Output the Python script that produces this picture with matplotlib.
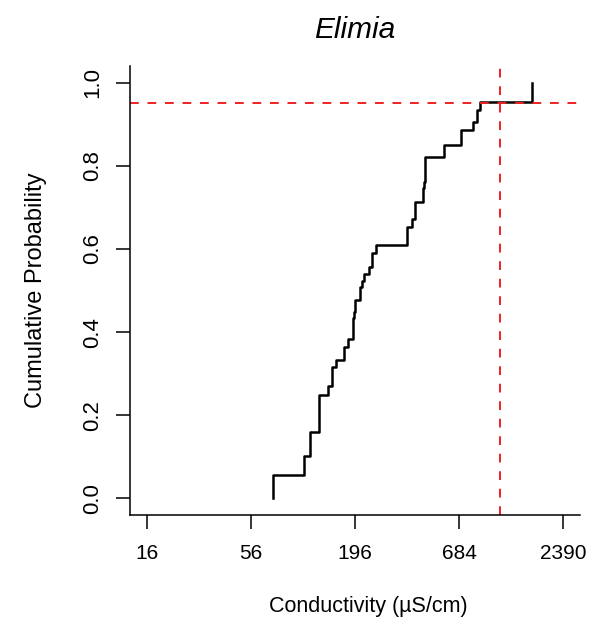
import numpy as np
import matplotlib.pyplot as plt

plt.rcParams['font.family'] = ['Liberation Sans', 'DejaVu Sans']

# conductivity values (uS/cm) where the cumulative curve steps up
cond = [72.6, 106.1, 114.0, 126.5, 140.8, 147.7, 155.6, 170.7, 180.2,
        192.0, 194.3, 196.7, 207.7, 212.8, 218.7, 230.9, 240.4, 252.6,
        364.8, 389.3, 400.2, 444.8, 448.6, 454.0, 570.7, 702.8, 804.0,
        845.8, 873.0, 1646.0]
# cumulative probability after each step
cum_prob = [0.057, 0.101, 0.160, 0.248, 0.270, 0.315, 0.334, 0.363, 0.384,
            0.434, 0.449, 0.478, 0.509, 0.524, 0.540, 0.557, 0.591, 0.610,
            0.652, 0.672, 0.712, 0.747, 0.762, 0.821, 0.851, 0.885, 0.905,
            0.933, 0.954, 1.0]

xticks = [16, 56, 196, 684, 2390]
yticks = [0.0, 0.2, 0.4, 0.6, 0.8, 1.0]
p95 = 0.95
hc95 = 1120

fig = plt.figure(figsize=(5.93, 6.32), dpi=100)
ax = fig.add_axes([130 / 593, 1 - 515 / 632, 450 / 593, 449 / 632])

xx = [cond[0]] + cond
yy = [0] + cum_prob
ax.step(xx, yy, where='post', color='black', lw=1.8)

ax.axhline(p95, color='#ee2222', lw=1.4, dashes=(4.5, 4.5))
ax.axvline(hc95, color='#ee2222', lw=1.4, dashes=(4.5, 4.5))

ax.set_xscale('log')
lo, hi = np.log10(xticks[0]), np.log10(xticks[-1])
ext = 0.04 * (hi - lo)
ax.set_xlim(10 ** (lo - ext), 10 ** (hi + ext))
ax.set_ylim(-0.04, 1.04)
ax.set_xticks(xticks)
ax.set_xticklabels([str(t) for t in xticks])
ax.xaxis.set_minor_locator(plt.NullLocator())
ax.set_yticks(yticks)
ax.set_yticklabels(['%.1f' % t for t in yticks], rotation=90, va='center')

for s in ['top', 'right']:
    ax.spines[s].set_visible(False)
for s in ['left', 'bottom']:
    ax.spines[s].set_linewidth(1.1)
ax.tick_params(length=10, width=1.1)
ax.tick_params(axis='x', pad=11, labelsize=15)
ax.tick_params(axis='y', pad=9.5, labelsize=16)

ax.set_xlabel('Conductivity (µS/cm)', fontsize=15.5)
ax.set_ylabel('Cumulative Probability', fontsize=17)
ax.xaxis.set_label_coords(0.53, -0.181)
ax.yaxis.set_label_coords(-0.185, 0.5)
ax.set_title('Elimia', fontsize=21.5, style='italic', pad=20)

fig.savefig('out.png', dpi=100)
